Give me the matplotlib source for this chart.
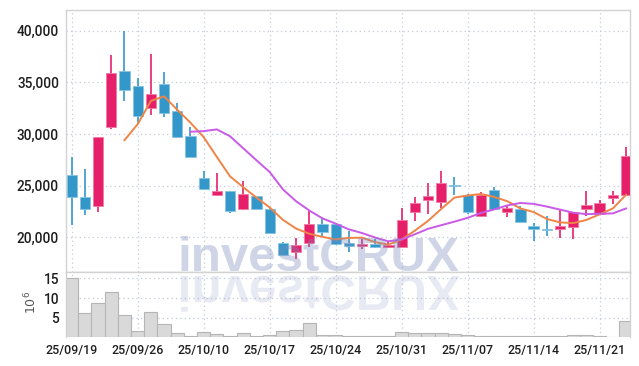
import matplotlib as mpl
mpl.use("Agg")
import matplotlib.pyplot as plt
import numpy as np
from matplotlib.textpath import TextPath
from matplotlib.patches import PathPatch
from matplotlib.transforms import Affine2D
from matplotlib.font_manager import FontProperties

#######
# Data

opens = [26000, 23900, 23000, 30700, 36100, 34600, 32550, 34800, 32200, 29800,
         25700, 24100, 24450, 22750, 24000, 22750, 19500, 18550, 19500, 21250,
         21300, 19500, 19150, 19400, 19050, 19100, 22450, 23600, 23400, 25050,
         24100, 22050, 24550, 22450, 22750, 21100, 20800, 20800, 21000, 22700,
         22250, 23800, 24100]
highs = [27750, 26600, 29700, 37600, 40000, 35400, 37750, 36000, 33000, 30700,
         26400, 26200, 24450, 25450, 24000, 22800, 19550, 19900, 22550, 21850,
         21300, 20600, 19850, 19850, 19600, 22800, 23900, 25300, 26450, 25800,
         24150, 24400, 24900, 23150, 23000, 21400, 22050, 22650, 22450, 24500,
         23650, 24450, 28700]
lows = [21200, 22150, 22500, 30500, 33150, 31100, 31800, 31600, 29650, 27750,
        24600, 24000, 22400, 22650, 22750, 20450, 18200, 17900, 19050, 20150,
        19250, 18600, 18850, 19000, 19000, 19100, 21550, 22300, 22800, 24100,
        22300, 22000, 22700, 21950, 21500, 19650, 20150, 19900, 19800, 22100,
        22250, 23200, 24100]
closes = [23900, 22750, 29700, 35950, 34250, 31750, 33850, 32050, 29700, 27800,
          24650, 24500, 22550, 24200, 22750, 20450, 18300, 19250, 21300, 20500,
          19350, 19150, 19400, 19050, 19250, 21650, 23350, 24000, 25250, 24950,
          22450, 24100, 22750, 22850, 21500, 20800, 20750, 21100, 22450, 23100,
          23300, 24100, 27850]
nan = np.nan
ma5 = [nan, nan, nan, nan, 29400, 30950, 33200, 33650, 32350, 31100,
       29700, 27780, 25900, 24850, 23850, 22900, 21700, 20850, 20350, 20050,
       19800, 19950, 19970, 19530, 19300, 19800, 20650, 21600, 22750, 23850,
       24050, 24200, 23920, 23500, 22800, 22450, 21780, 21450, 21380, 21690,
       22230, 22800, 24120]
ma10 = [nan, nan, nan, nan, nan, nan, nan, nan, nan, 30220,
        30280, 30450, 29780, 28620, 27460, 26330, 24650, 23500, 22600, 21840,
        21330, 20775, 20420, 19980, 19620, 19800, 20300, 20830, 21180, 21520,
        21890, 22360, 22700, 23090, 23330, 23240, 22980, 22690, 22390, 22250,
        22290, 22320, 22800]
volume = [15.0, 6.1, 8.65, 11.45, 5.6, 1.55, 6.37, 3.32, 1.04, 0.43,
          1.29, 0.79, 0.43, 1.04, 0.28, 0.53, 1.55, 1.8, 3.58, 0.53,
          0.5, 0.43, 0.4, 0.35, 0.3, 1.37, 1.1, 1.1, 1.05, 0.8,
          0.5, 0.35, 0.3, 0.3, 0.3, 0.25, 0.25, 0.3, 0.5, 0.5,
          0.3, 0.2, 4.25]
tick_pos = [0, 5, 10, 15, 20, 25, 30, 35, 40]
tick_labels = ["25/09/19", "25/09/26", "25/10/10", "25/10/17", "25/10/24",
               "25/10/31", "25/11/07", "25/11/14", "25/11/21"]

#######
# Style

UP = "#e61f6b"
DOWN = "#3497c9"
UP_EDGE = "#f27aa3"
DOWN_EDGE = "#86c3e3"
GRID = "#c3cad8"
SPINE = "#d2d2d2"
tick_font = ["Roboto", "DejaVu Sans"]

mpl.rcParams["axes.formatter.useoffset"] = False

fig = plt.figure(figsize=(6.39, 3.66), dpi=100)
ax = fig.add_axes([66/639, 1-272/366, 564/639, (272-9.5)/366])
axv = fig.add_axes([66/639, 1-337.4/366, 564/639, (337.4-272)/366], sharex=ax)

x = np.arange(len(opens))
o = np.array(opens); c = np.array(closes)
up = c >= o
col = np.where(up, UP, DOWN)
ecol = np.where(up, UP_EDGE, DOWN_EDGE)

#######
# Candles

ax.vlines(x, lows, highs, colors=col, linewidth=1.2, zorder=2)
bottoms = np.minimum(o, c)
heights = np.maximum(np.abs(c - o), 60)
ax.bar(x, heights, bottom=bottoms, width=0.78, color=col, edgecolor=ecol,
       linewidth=0.6, zorder=3)
ax.plot(x, ma5, color="#ef8446", linewidth=1.4, zorder=4)
ax.plot(x, ma10, color="#c95ae8", linewidth=1.4, zorder=4)

ax.set_xlim(-0.43, 42.3)
ax.set_ylim(16650, 42050)
ax.set_yticks([20000, 25000, 30000, 35000, 40000])
ax.set_yticklabels([f"{v:,}" for v in [20000, 25000, 30000, 35000, 40000]])
ax.grid(True, linestyle=(0, (1, 2.5)), color=GRID, linewidth=0.9)
ax.set_axisbelow(True)
ax.tick_params(axis="x", length=0, labelbottom=False)
ax.tick_params(axis="y", length=0, pad=5, labelsize=9.8, labelcolor="#1e1e1e")
for lab in ax.get_yticklabels():
    lab.set_family(tick_font)
    lab.set_fontweight("medium")

#######
# Volume

axv.bar(x, volume, width=1.0, color="#d9d9d9", edgecolor="#b5b5b5",
        linewidth=0.8, zorder=2)
axv.set_ylim(0, 16.6)
axv.set_yticks([5, 10, 15])
axv.set_xticks(tick_pos)
axv.set_xticklabels(tick_labels)
axv.grid(True, linestyle=(0, (1, 2.5)), color=GRID, linewidth=0.9)
axv.set_axisbelow(True)
axv.tick_params(axis="both", length=0, labelcolor="#1e1e1e")
axv.tick_params(axis="y", pad=5, labelsize=9.8)
axv.tick_params(axis="x", pad=5, labelsize=8.9)
for lab in axv.get_yticklabels() + axv.get_xticklabels():
    lab.set_family(tick_font)
    lab.set_fontweight("medium")

for a in (ax, axv):
    for s in a.spines.values():
        s.set_color(SPINE)
        s.set_linewidth(1.0)
axv.spines["bottom"].set_visible(False)

fig.text(31/639, 1-302/366, r"$10^6$", rotation=90, ha="center", va="center",
         fontsize=9, color="#555555")

#######
# Watermark with reflection

wm_fp = FontProperties(family="Liberation Sans", weight="bold")
wm_px = 49.3
fig.text(177.7/639, 95/366, "investCRUX", fontproperties=wm_fp,
         fontsize=wm_px*72/100, color="#7a8bbd", alpha=0.36,
         ha="left", va="baseline", zorder=10)
tp = TextPath((0, 0), "investCRUX", size=wm_px, prop=wm_fp)
refl = PathPatch(tp, transform=Affine2D().scale(1, -1).translate(177.7, 366-276),
                 facecolor="#8a98c2", edgecolor="none", alpha=0.2, zorder=10)
fig.add_artist(refl)

fig.savefig("out.png", dpi=100, facecolor="white")
